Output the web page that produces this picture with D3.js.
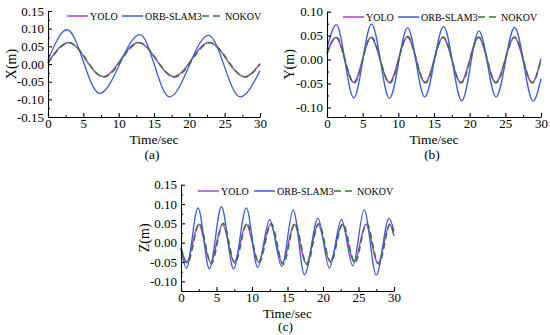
<!DOCTYPE html>
<html>
<head>
<meta charset="utf-8">
<script src="https://cdn.jsdelivr.net/npm/d3@7"></script>
<style>
  html, body { margin: 0; padding: 0; background: #fff; }
  svg { display: block; }
  text { font-family: "Liberation Serif", "Times New Roman", serif; fill: #000; }
</style>
</head>
<body>
<svg id="chart" width="550" height="335"></svg>
<script>
// ---------- data ----------
const seriesNames = ["YOLO", "ORB-SLAM3", "NOKOV"];
const xTicks = [0, 5, 10, 15, 20, 25, 30];
const xMinorTicks = [2.5, 7.5, 12.5, 17.5, 22.5, 27.5];
const aYTicks = [-0.15, -0.10, -0.05, 0.00, 0.05, 0.10, 0.15];
const bYTicks = [-0.10, -0.05, 0.00, 0.05, 0.10];
const cYTicks = [-0.10, -0.05, 0.00, 0.05, 0.10, 0.15];

// Panel (a): X(m)  (time points at extrema + ends)
const aT_YOLO  = [0, 2.9, 7.8, 12.8, 17.8, 22.8, 27.8, 30];
const aV_YOLO  = [0.004, 0.061, -0.036, 0.061, -0.036, 0.061, -0.036, 0.001];
const aT_ORB   = [0, 2.7, 7.3, 13.0, 17.2, 22.7, 27.2, 30];
const aV_ORB   = [0.011, 0.097, -0.083, 0.083, -0.093, 0.081, -0.093, -0.019];
const aT_NOKOV = [0, 3.0, 7.9, 12.9, 17.9, 22.9, 27.9, 30];
const aV_NOKOV = [0.002, 0.060, -0.037, 0.060, -0.037, 0.060, -0.037, 0.000];

// Panel (b): Y(m)
const bT_YOLO  = [0, 1.25, 3.75, 6.15, 8.75, 11.25, 13.75, 16.25, 18.75, 21.25, 23.65, 26.25, 28.75, 30];
const bV_YOLO  = [0.013, 0.046, -0.048, 0.046, -0.048, 0.047, -0.048, 0.046, -0.048, 0.046, -0.048, 0.046, -0.048, 0.002];
const bT_ORB   = [0, 1.3, 3.75, 6.25, 8.75, 11.3, 13.7, 16.35, 18.9, 21.3, 23.7, 26.3, 28.9, 30];
const bV_ORB   = [0.022, 0.073, -0.080, 0.074, -0.081, 0.066, -0.078, 0.069, -0.086, 0.060, -0.078, 0.067, -0.087, -0.040];
const bT_NOKOV = [0, 1.3, 3.8, 6.2, 8.8, 11.3, 13.8, 16.3, 18.8, 21.3, 23.7, 26.3, 28.8, 30];
const bV_NOKOV = [0.012, 0.047, -0.049, 0.047, -0.049, 0.048, -0.049, 0.047, -0.049, 0.047, -0.049, 0.047, -0.049, 0.001];

// Panel (c): Z(m)
const cT_YOLO  = [0, 0.8, 2.5, 4.17, 5.85, 7.5, 9.2, 10.9, 12.6, 14.3, 15.95, 17.65, 19.3, 21.0, 22.7, 24.4, 26.05, 27.75, 29.4, 30];
const cV_YOLO  = [-0.012, -0.050, 0.048, -0.051, 0.048, -0.050, 0.048, -0.050, 0.047, -0.053, 0.048, -0.054, 0.047, -0.049, 0.047, -0.050, 0.048, -0.053, 0.047, 0.018];
const cT_ORB   = [0, 0.75, 2.4, 4.0, 5.7, 7.4, 9.2, 10.8, 12.5, 14.2, 15.8, 17.4, 19.3, 20.9, 22.6, 24.2, 25.8, 27.5, 29.3, 30];
const cV_ORB   = [-0.015, -0.066, 0.090, -0.068, 0.093, -0.068, 0.090, -0.064, 0.060, -0.062, 0.085, -0.083, 0.063, -0.066, 0.060, -0.060, 0.085, -0.084, 0.063, 0.030];
const cT_NOKOV = [0, 0.9, 2.6, 4.27, 5.95, 7.6, 9.3, 11.0, 12.7, 14.4, 16.05, 17.75, 19.4, 21.1, 22.8, 24.5, 26.15, 27.85, 29.5, 30];
const cV_NOKOV = [-0.015, -0.053, 0.050, -0.054, 0.050, -0.053, 0.050, -0.052, 0.049, -0.056, 0.050, -0.057, 0.049, -0.051, 0.049, -0.052, 0.050, -0.056, 0.049, 0.015];

// ---------- styles / layout ----------
const colors = { "YOLO": "#a83fd6", "ORB-SLAM3": "#3b5bdb", "NOKOV": "#347a2e" };
const zip = (t, v) => t.map((d, i) => ({ t: d, v: v[i] }));
const FONT = '"Liberation Serif", "Times New Roman", serif';

const panels = [
  { label: "(a)", yTitle: "X(m)", yDomain: [-0.15, 0.15], yTicks: aYTicks,
    left: 48, right: 260, top: 11, bottom: 117, titleDy: 26.5, labelDy: 41.5,
    data: { "YOLO": zip(aT_YOLO, aV_YOLO), "ORB-SLAM3": zip(aT_ORB, aV_ORB), "NOKOV": zip(aT_NOKOV, aV_NOKOV) },
    yTitleX: 11, legendY: 16, legendX: [67, 122, 202] },
  { label: "(b)", yTitle: "Y(m)", yDomain: [-0.12, 0.10], yTicks: bYTicks,
    left: 327, right: 541, top: 11.7, bottom: 117, titleDy: 26.5, labelDy: 41.5,
    data: { "YOLO": zip(bT_YOLO, bV_YOLO), "ORB-SLAM3": zip(bT_ORB, bV_ORB), "NOKOV": zip(bT_NOKOV, bV_NOKOV) },
    yTitleX: 289, legendY: 17, legendX: [343, 398, 478] },
  { label: "(c)", yTitle: "Z(m)", yDomain: [-0.125, 0.15], yTicks: cYTicks,
    left: 181, right: 394, top: 184.7, bottom: 291, titleDy: 26.5, labelDy: 40,
    data: { "YOLO": zip(cT_YOLO, cV_YOLO), "ORB-SLAM3": zip(cT_ORB, cV_ORB), "NOKOV": zip(cT_NOKOV, cV_NOKOV) },
    yTitleX: 144, legendY: 191, legendX: [198, 254, 334] }
];

const svg = d3.select("#chart");

panels.forEach(p => {
  const g = svg.append("g");
  const x = d3.scaleLinear().domain([0, 30]).range([p.left, p.right]);
  const y = d3.scaleLinear().domain(p.yDomain).range([p.bottom, p.top]);

  const line = d3.line().x(d => x(d.t)).y(d => y(d.v)).curve(d3.curveMonotoneX);

  seriesNames.forEach(name => {
    g.append("path")
      .datum(p.data[name])
      .attr("d", line)
      .attr("fill", "none")
      .attr("stroke", colors[name])
      .attr("stroke-width", name === "ORB-SLAM3" ? 1.3 : 1.5)
      .attr("stroke-dasharray", name === "NOKOV" ? "6,4" : null);
  });

  // minor ticks
  const yMinor = p.yTicks.slice(0, -1).map((d, i) => (d + p.yTicks[i + 1]) / 2);
  g.append("g").attr("transform", `translate(0,${p.bottom})`)
    .call(d3.axisBottom(x).tickValues(xMinorTicks).tickSize(-2).tickSizeOuter(0).tickFormat(""))
    .call(a => a.select(".domain").remove())
    .selectAll("line").attr("stroke", "#000");
  g.append("g").attr("transform", `translate(${p.left},0)`)
    .call(d3.axisLeft(y).tickValues(yMinor).tickSize(-2).tickSizeOuter(0).tickFormat(""))
    .call(a => a.select(".domain").remove())
    .selectAll("line").attr("stroke", "#000");

  // axes
  const xAxis = g.append("g")
    .attr("transform", `translate(0,${p.bottom})`)
    .call(d3.axisBottom(x).tickValues(xTicks).tickSize(-4).tickSizeOuter(0).tickPadding(2).tickFormat(d => String(d)));
  const yAxis = g.append("g")
    .attr("transform", `translate(${p.left},0)`)
    .call(d3.axisLeft(y).tickValues(p.yTicks).tickSize(-4).tickSizeOuter(0).tickPadding(4).tickFormat(d => d.toFixed(2)));
  [xAxis, yAxis].forEach(ax => {
    ax.selectAll("path, line").attr("stroke", "#000").attr("stroke-width", 1.1);
    ax.selectAll("text").style("font-family", FONT).style("font-size", "13px").attr("fill", "#000");
  });

  const cx = (p.left + p.right) / 2;
  g.append("text").attr("x", cx).attr("y", p.bottom + p.titleDy).attr("text-anchor", "middle")
    .style("font-size", "13.5px").text("Time/sec");
  g.append("text").attr("x", cx - 2).attr("y", p.bottom + p.labelDy).attr("text-anchor", "middle")
    .style("font-size", "13.5px").text(p.label);
  const cy = (p.top + p.bottom) / 2;
  g.append("text").attr("transform", `translate(${p.yTitleX + 5},${cy}) rotate(-90)`)
    .attr("text-anchor", "middle").style("font-size", "14px").text(p.yTitle);

  // legend
  seriesNames.forEach((name, i) => {
    const lx = p.legendX[i];
    g.append("line").attr("x1", lx).attr("x2", lx + 21).attr("y1", p.legendY).attr("y2", p.legendY)
      .attr("stroke", colors[name]).attr("stroke-width", 1.5)
      .attr("stroke-dasharray", name === "NOKOV" ? "7,4" : null);
    g.append("text").attr("x", lx + 23).attr("y", p.legendY + 3.5)
      .style("font-size", "10px").text(name);
  });
});
</script>
</body>
</html>
